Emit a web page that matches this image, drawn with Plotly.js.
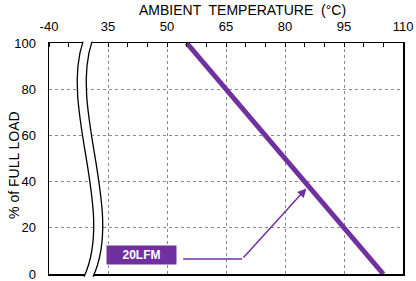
<!DOCTYPE html>
<html><head><meta charset="utf-8">
<script src="https://cdn.plot.ly/plotly-3.0.1.min.js"></script>
<style>html,body{margin:0;padding:0;background:#fff}</style>
</head><body><div id="chart" style="width:416px;height:281px"></div>
<script>
// Axis is broken: position 20 on the axis displays as -40
const tickVals = [20, 35, 50, 65, 80, 95, 110];
const tickText = ["-40", "35", "50", "65", "80", "95", "110"];
const yTicks = [0, 20, 40, 60, 80, 100];
// Derating curve, 20LFM
const tempC = [55, 105];
const loadPct = [100, 0];
// Callout leader line (from label to the curve)
const calloutX = [54.1, 69.1, 85.8];
const calloutY = [6.5, 6.5, 37.7];
const labelX = 43.6, labelY = 8.2;
const purple = "#7030A0";

const f = "Liberation Sans, Arial, sans-serif";

// break mark curves (x in axis units, y in paper units)
const L = [[28.64,1.006],[22.80,0.71],[36.78,0.277],[28.90,-0.012]];
const R = L.map(p => [p[0]+2.29, p[1]]);
const c = a => a.map(p=>p[0]+','+p[1]);
const Lp = c(L), Rp = c(R);
const fillPath = `M${Lp[0]} C${Lp[1]} ${Lp[2]} ${Lp[3]} L${Rp[3]} C${Rp[2]} ${Rp[1]} ${Rp[0]} Z`;
const leftPath = `M${Lp[0]} C${Lp[1]} ${Lp[2]} ${Lp[3]}`;
const rightPath = `M${Rp[0]} C${Rp[1]} ${Rp[2]} ${Rp[3]}`;

const data = [
  {x: tempC, y: loadPct, mode: "lines", line: {color: purple, width: 5}, hoverinfo: "skip", showlegend: false},
  {x: calloutX.slice(0,2), y: calloutY.slice(0,2), mode: "lines", line: {color: purple, width: 1.5}, hoverinfo: "skip", showlegend: false}
];

const layout = {
  width: 416, height: 281,
  margin: {l: 49, r: 13, t: 43, b: 7},
  paper_bgcolor: "#fff", plot_bgcolor: "#fff",
  font: {family: f, color: "#000", size: 13},
  xaxis: {
    side: "top", range: [20, 110], tickvals: tickVals, ticktext: tickText,
    ticks: "", showgrid: true, gridcolor: "#8a8a8a", griddash: "dot", gridwidth: 1,
    showline: true, linecolor: "#000", linewidth: 1.5, mirror: true, zeroline: false,
    tickfont: {size: 13, family: f}, ticklabelstandoff: 5, ticklabeloverflow: "allow",
    minor: {dtick: 5, tick0: 20, ticks: "inside", ticklen: 4, tickcolor: "#000", showgrid: false},
    fixedrange: true
  },
  yaxis: {
    range: [0, 100], tickvals: yTicks, ticks: "",
    showgrid: true, gridcolor: "#8a8a8a", griddash: "dot", gridwidth: 1,
    showline: true, linecolor: "#000", linewidth: 1.5, mirror: true, zeroline: false,
    tickfont: {size: 13, family: f}, ticklabelstandoff: 9, ticklabeloverflow: "allow",
    fixedrange: true
  },
  shapes: [
    {type: "path", xref: "x", yref: "paper", path: fillPath, fillcolor: "#fff", line: {width: 0}, layer: "above"},
    {type: "path", xref: "x", yref: "paper", path: leftPath, line: {color: "#000", width: 1.3}, layer: "above"},
    {type: "path", xref: "x", yref: "paper", path: rightPath, line: {color: "#000", width: 1.3}, layer: "above"}
  ],
  annotations: [
    {x: 0.548, y: 1.143, xref: "paper", yref: "paper", text: "AMBIENT  TEMPERATURE  (°C)", showarrow: false,
     font: {size: 14, family: f}, xanchor: "center", yanchor: "middle"},
    {x: -0.099, y: 0.472, xref: "paper", yref: "paper", text: "% of FULL LOAD", showarrow: false, textangle: -90,
     font: {size: 14, family: f}, xanchor: "center", yanchor: "middle"},
    {x: calloutX[2], y: calloutY[2], ax: calloutX[1], ay: calloutY[1], axref: "x", ayref: "y",
     xref: "x", yref: "y", text: "", showarrow: true, arrowhead: 2, arrowsize: 1.2, arrowwidth: 1.5, arrowcolor: purple, standoff: 2},
    {x: labelX, y: labelY, xref: "x", yref: "y", text: "<b>20LFM</b>", showarrow: false,
     bgcolor: purple, font: {color: "#fff", size: 12, family: f}, width: 65, height: 14, borderpad: 2}
  ]
};
Plotly.newPlot("chart", data, layout, {displayModeBar: false, staticPlot: true});
</script></body></html>
